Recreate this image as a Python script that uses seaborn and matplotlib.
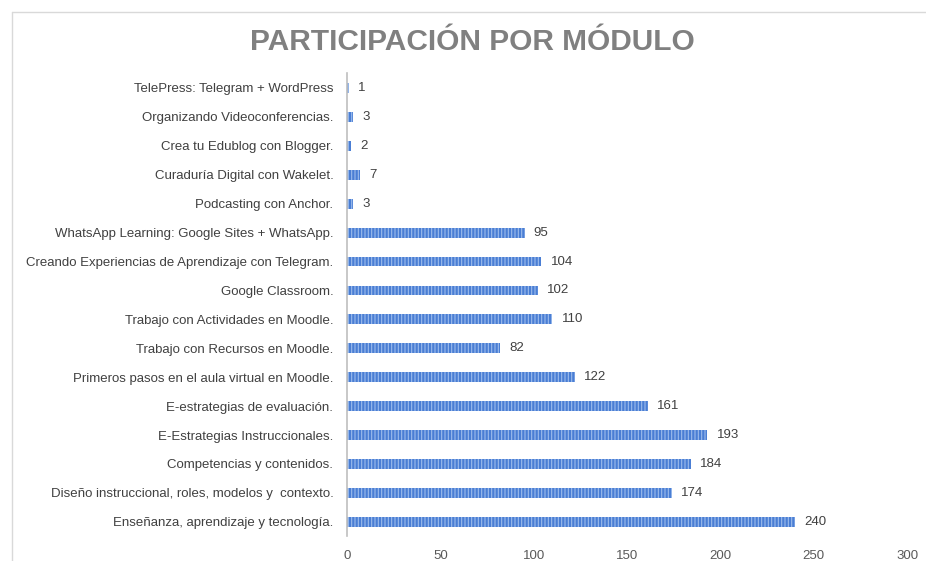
import pandas as pd
import matplotlib.pyplot as plt
import seaborn as sns
from matplotlib.lines import Line2D

# Datos (de arriba hacia abajo)
MODULOS = [
    "TelePress: Telegram + WordPress",
    "Organizando Videoconferencias.",
    "Crea tu Edublog con Blogger.",
    "Curaduría Digital con Wakelet.",
    "Podcasting con Anchor.",
    "WhatsApp Learning: Google Sites + WhatsApp.",
    "Creando Experiencias de Aprendizaje con Telegram.",
    "Google Classroom.",
    "Trabajo con Actividades en Moodle.",
    "Trabajo con Recursos en Moodle.",
    "Primeros pasos en el aula virtual en Moodle.",
    "E-estrategias de evaluación.",
    "E-Estrategias Instruccionales.",
    "Competencias y contenidos.",
    "Diseño instruccional, roles, modelos y  contexto.",
    "Enseñanza, aprendizaje y tecnología.",
]
PARTICIPANTES = [1, 3, 2, 7, 3, 95, 104, 102, 110, 82, 122, 161, 193, 184, 174, 240]
TICKS_X = [0, 50, 100, 150, 200, 250, 300]

df = pd.DataFrame({"modulo": MODULOS, "n": PARTICIPANTES})

sns.set_theme(style="white")
plt.rcParams["font.family"] = ["Liberation Sans", "DejaVu Sans"]
plt.rcParams["hatch.linewidth"] = 0.8

fig = plt.figure(figsize=(9.26, 5.61), dpi=100)
ax = fig.add_axes([0.375, 0.044, 0.6045, 0.825])

sns.barplot(data=df, x="n", y="modulo", orient="h", ax=ax, color="#4a7ed4",
            width=0.34, saturation=1)
for p in ax.patches:
    p.set_hatch("|||||")
    p.set_edgecolor("#9dbcec")
    p.set_linewidth(0)

for i, v in enumerate(PARTICIPANTES):
    ax.text(v + 5, i, str(v), va="center", ha="left", fontsize=9.5, color="#404040")

ax.set_xlim(0, 300)
ax.set_xticks(TICKS_X)
ax.set_xlabel("")
ax.set_ylabel("")
ax.tick_params(axis="x", labelsize=9.5, colors="#595959", length=0, pad=10)
ax.tick_params(axis="y", labelsize=9.5, colors="#404040", length=0, pad=10)
for s in ["top", "right", "bottom"]:
    ax.spines[s].set_visible(False)
ax.spines["left"].set_color("#bfbfbf")
ax.spines["left"].set_linewidth(1.2)

fig.text(0.51, 0.925, "PARTICIPACIÓN POR MÓDULO", ha="center", va="center",
         fontsize=21.5, fontweight="bold", color="#808080")

# Borde del área del gráfico (arriba e izquierda)
bx, by = 12 / 926, 1 - 12 / 561
fig.add_artist(Line2D([bx, 1], [by, by], transform=fig.transFigure, color="#d9d9d9", lw=1))
fig.add_artist(Line2D([bx, bx], [0, by], transform=fig.transFigure, color="#d9d9d9", lw=1))

fig.savefig("out.png", dpi=100)
